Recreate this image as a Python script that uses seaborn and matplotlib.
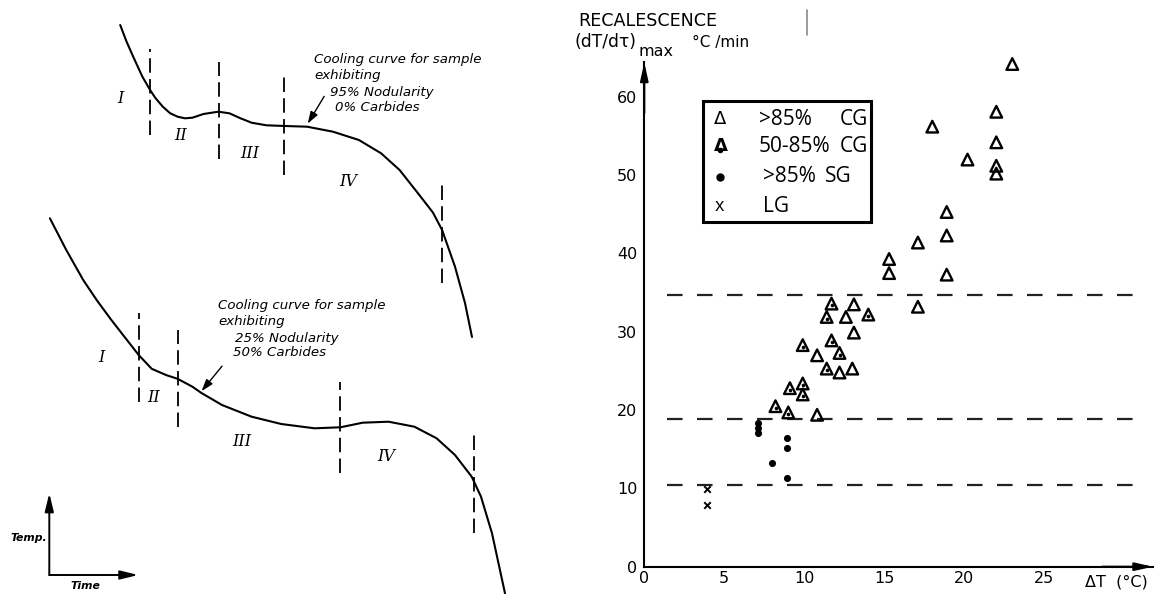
import matplotlib
matplotlib.use("Agg")
import matplotlib.pyplot as plt
from matplotlib.lines import Line2D
from matplotlib.patches import Rectangle
from matplotlib.transforms import offset_copy
import seaborn as sns

W, H = 1161, 594

# ---------------- cooling curves (schematic, arbitrary time / temperature units)
upper_time = [120.2, 126.5, 133.2, 142.4, 149.8, 155.4, 162.8, 170.2, 177.6, 185.0,
              192.4, 203.5, 218.3, 229.4, 240.5, 251.6, 266.4, 284.9, 307.1, 333.0,
              358.9, 381.1, 399.6, 418.0, 432.9, 442.1, 455.0, 465.0, 472.0]
upper_temp = [569.0, 552.5, 537.3, 517.3, 504.5, 496.0, 487.3, 480.7, 477.3, 475.7,
              476.3, 480.0, 482.3, 480.7, 475.7, 471.3, 468.7, 468.0, 467.3, 462.3,
              454.0, 440.7, 424.0, 400.7, 381.5, 364.0, 327.3, 291.0, 257.0]

lower_time = [49.9, 66.0, 83.2, 97.0, 111.0, 125.0, 138.7, 151.7, 166.5, 177.6,
              192.4, 201.6, 222.0, 251.6, 281.2, 314.5, 340.4, 362.6, 388.5, 414.4,
              436.6, 455.0, 471.7, 481.0, 492.0, 505.0]
lower_temp = [375.7, 344.5, 314.0, 293.5, 274.5, 256.5, 239.0, 225.2, 218.8, 215.2,
              207.3, 200.9, 189.0, 177.3, 170.0, 165.7, 166.7, 171.3, 172.3, 167.3,
              155.7, 139.0, 117.3, 97.3, 60.7, 0.7]

# stage boundaries (time, temperature span)
upper_bounds = [149.8, 219.4, 284.1, 442.1]
upper_bounds_top = [545.0, 532.0, 518.0, 409.0]
upper_bounds_bot = [459.0, 435.0, 419.0, 311.0]
lower_bounds = [138.7, 177.6, 340.4, 473.5]
lower_bounds_top = [280.7, 264.0, 212.3, 159.0]
lower_bounds_bot = [192.3, 167.3, 120.7, 60.7]

stage_names = ["I", "II", "III", "IV"]

# ---------------- recalescence vs. undercooling
cg_x = [23.0, 22.0, 22.0, 22.0, 22.0, 20.2, 18.0, 18.9, 18.9, 18.9, 17.1, 15.3,
        15.3, 17.1, 13.1, 12.6, 13.1, 10.8, 12.2, 13.0, 10.8]
cg_y = [64.2, 58.1, 54.2, 51.2, 50.2, 52.0, 56.2, 45.3, 42.3, 37.3, 41.4, 39.3,
        37.5, 33.2, 33.5, 31.9, 29.9, 27.0, 24.8, 25.3, 19.4]

cg_mid_x = [11.7, 11.4, 14.0, 9.9, 11.7, 12.2, 11.4, 9.1, 9.9, 9.9, 8.2, 9.0]
cg_mid_y = [33.6, 31.9, 32.2, 28.3, 28.9, 27.3, 25.3, 22.8, 23.4, 22.0, 20.5, 19.7]

sg_x = [7.1, 7.1, 7.1, 8.9, 8.9, 8.0, 8.9]
sg_y = [18.3, 17.7, 17.1, 16.4, 15.2, 13.2, 11.3]

lg_x = [3.9, 3.9]
lg_y = [9.9, 7.9]

thresholds = [34.7, 18.8, 10.4]
x_ticks = [0, 5, 10, 15, 20, 25]
y_ticks = [0, 10, 20, 30, 40, 50, 60]

sns.set_theme(style="white")
plt.rcParams["font.family"] = ["DejaVu Sans"]
plt.rcParams["text.color"] = "black"
plt.rcParams["axes.labelcolor"] = "black"
plt.rcParams["xtick.color"] = "black"
plt.rcParams["ytick.color"] = "black"

fig = plt.figure(figsize=(W / 100, H / 100), dpi=100)
fig.patch.set_facecolor("white")


def fx(px):
    return px / W


def fy(py):
    return 1 - py / H


# ================= left: cooling curves =================
ax0 = fig.add_axes([0, 0, 580 / W, 1])
ax0.set_xlim(0, 580)
ax0.set_ylim(0, H)
ax0.axis("off")

for t, T in ((upper_time, upper_temp), (lower_time, lower_temp)):
    sns.lineplot(x=t, y=T, sort=False, estimator=None, color="black",
                 linewidth=1.5, ax=ax0, solid_joinstyle="round")

ax0.vlines(upper_bounds, upper_bounds_bot, upper_bounds_top, colors="black",
           linewidth=1.3, linestyles=(0, (8, 3.5)))
ax0.vlines(lower_bounds, lower_bounds_bot, lower_bounds_top, colors="black",
           linewidth=1.3, linestyles=(0, (8, 3.5)))

roman = dict(family="DejaVu Serif", style="italic", fontsize=11.5,
             ha="center", va="center", color="black")
for name, (x, y) in zip(stage_names, [(120.2, 495.7), (180.2, 459.0),
                                      (249.7, 440.0), (347.8, 412.3)]):
    ax0.text(x, y, name, **roman)
for name, (x, y) in zip(stage_names, [(101.7, 236.7), (153.5, 196.7),
                                      (242.3, 152.3), (386.6, 137.3)]):
    ax0.text(x, y, name, **roman)

note = dict(style="italic", fontsize=9.6, ha="left", va="center", color="black")
ax0.text(314.5, 534.7, "Cooling curve for sample", **note)
ax0.text(314.5, 519.0, "exhibiting", **note)
ax0.text(330.4, 501.7, "95% Nodularity", **note)
ax0.text(334.8, 486.7, "0% Carbides", **note)
ax0.annotate("", xy=(306.3, 468.0), xytext=(325.6, 500.0),
             arrowprops=dict(arrowstyle="-|>,head_length=0.6,head_width=0.2",
                             color="black", lw=1.0))

ax0.text(218.3, 288.0, "Cooling curve for sample", **note)
ax0.text(218.3, 272.3, "exhibiting", **note)
ax0.text(234.9, 255.7, "25% Nodularity", **note)
ax0.text(233.1, 241.3, "50% Carbides", **note)
ax0.annotate("", xy=(199.8, 200.7), xytext=(223.8, 230.0),
             arrowprops=dict(arrowstyle="-|>,head_length=0.6,head_width=0.2",
                             color="black", lw=1.0))

# small Temp / Time key
ax0.annotate("", xy=(49.3, 100.7), xytext=(49.3, 19.0),
             arrowprops=dict(arrowstyle="-|>,head_length=0.9,head_width=0.22",
                             color="black", lw=1.4, shrinkA=0, shrinkB=0))
ax0.annotate("", xy=(138.3, 19.0), xytext=(49.3, 19.0),
             arrowprops=dict(arrowstyle="-|>,head_length=0.9,head_width=0.22",
                             color="black", lw=1.4, shrinkA=0, shrinkB=0))
ax0.text(10, 55.7, "Temp.", style="italic", fontweight="bold", fontsize=7.8,
         ha="left", va="center", color="black")
ax0.text(70, 8.0, "Time", style="italic", fontweight="bold", fontsize=7.8,
         ha="left", va="center", color="black")

# ================= right: recalescence chart =================
x_max, y_max = 31.8, 64.4
ax = fig.add_axes([fx(644.3), 27.3 / H, x_max * 16.0 / W, y_max * 7.83 / H])
ax.set_facecolor("none")
ax.set_xlim(0, x_max)
ax.set_ylim(0, y_max)
for side in ("top", "right"):
    ax.spines[side].set_visible(False)
for side in ("left", "bottom"):
    ax.spines[side].set_color("black")
    ax.spines[side].set_linewidth(1.5)

ax.set_xticks(x_ticks)
ax.set_yticks(y_ticks)
ax.tick_params(axis="y", direction="out", length=4, width=1.3, pad=1,
               labelsize=11.5, colors="black")
ax.tick_params(axis="x", direction="in", length=5, width=1.3, pad=3,
               labelsize=11.5, colors="black")

# axis arrows
ax.annotate("", xy=(0, 1.0), xytext=(0, 0.9), xycoords="axes fraction",
            arrowprops=dict(arrowstyle="-|>,head_length=0.9,head_width=0.2",
                            color="black", lw=1.5, shrinkA=0, shrinkB=0))
ax.annotate("", xy=(1.0, 0), xytext=(0.9, 0), xycoords="axes fraction",
            arrowprops=dict(arrowstyle="-|>,head_length=0.9,head_width=0.2",
                            color="black", lw=1.5, shrinkA=0, shrinkB=0))

ax.hlines(thresholds, 1.4, 30.9, colors="#222222", linewidth=1.6,
          linestyles=(0, (7, 6.5)), zorder=1)

sns.scatterplot(x=cg_x, y=cg_y, marker="^", s=70, facecolor="none",
                edgecolor="black", linewidth=1.7, ax=ax, clip_on=False, zorder=3)
sns.scatterplot(x=cg_mid_x, y=cg_mid_y, marker="^", s=70, facecolor="none",
                edgecolor="black", linewidth=1.7, ax=ax, clip_on=False, zorder=3)
sns.scatterplot(x=cg_mid_x, y=cg_mid_y, marker="o", s=7, color="black",
                edgecolor="black", linewidth=0, ax=ax, zorder=4,
                transform=offset_copy(ax.transData, fig=fig, y=-1.2, units="points"))
sns.scatterplot(x=sg_x, y=sg_y, marker="o", s=26, color="black",
                edgecolor="black", linewidth=0, ax=ax, zorder=3)
sns.scatterplot(x=lg_x, y=lg_y, marker="x", s=22, color="black",
                linewidth=1.4, ax=ax, zorder=3)
ax.set_xlabel("")
ax.set_ylabel("")

# axis titles
fig.text(fx(578.3), fy(20.7), "RECALESCENCE", fontsize=12.6, ha="left", va="center")
fig.text(fx(575.0), fy(41.7), "(dT/dτ)", fontsize=12.3, ha="left", va="center")
fig.text(fx(638.0), fy(51.7), "max", fontsize=11.5, ha="left", va="center")
fig.text(fx(691.7), fy(42.0), "°C /min", fontsize=11, ha="left", va="center")
fig.text(fx(1085.0), fy(581.7), "ΔT  (°C)", fontsize=11.5, ha="left", va="center")
fig.add_artist(Line2D([fx(806.7), fx(806.7)], [fy(10), fy(35)],
                      transform=fig.transFigure, color="#8a8a8a", lw=1.2))

# key box
fig.add_artist(Rectangle((fx(703.3), fy(221.7)), (870.7 - 703.3) / W,
                         (221.7 - 100.7) / H, transform=fig.transFigure,
                         fill=False, edgecolor="black", linewidth=2.2, zorder=5))
key = dict(family="Open Sans", fontsize=15, ha="left", va="center")
fig.text(fx(714.0), fy(119.3), "Δ", family="DejaVu Sans", fontsize=13,
         ha="left", va="center")
fig.text(fx(759.0), fy(119.3), ">85%", **key)
fig.text(fx(839.3), fy(119.3), "CG", **key)
fig.text(fx(714.0), fy(146.0), "Δ", family="DejaVu Sans", fontsize=13,
         fontweight="bold", ha="left", va="center")
fig.add_artist(Line2D([fx(720.0)], [fy(150.0)], transform=fig.transFigure,
                      marker="o", markersize=3, color="black", lw=0))
fig.text(fx(759.0), fy(146.0), "50-85%", **key)
fig.text(fx(839.3), fy(146.0), "CG", **key)
fig.add_artist(Line2D([fx(720.0)], [fy(176.7)], transform=fig.transFigure,
                      marker="o", markersize=5, color="black", lw=0))
fig.text(fx(763.3), fy(176.7), ">85%", **key)
fig.text(fx(825.0), fy(176.7), "SG", **key)
fig.text(fx(715.0), fy(206.0), "x", family="Open Sans", fontsize=13,
         ha="left", va="center")
fig.text(fx(762.7), fy(206.0), "LG", **key)

fig.savefig("out.png", dpi=100, facecolor="white")
